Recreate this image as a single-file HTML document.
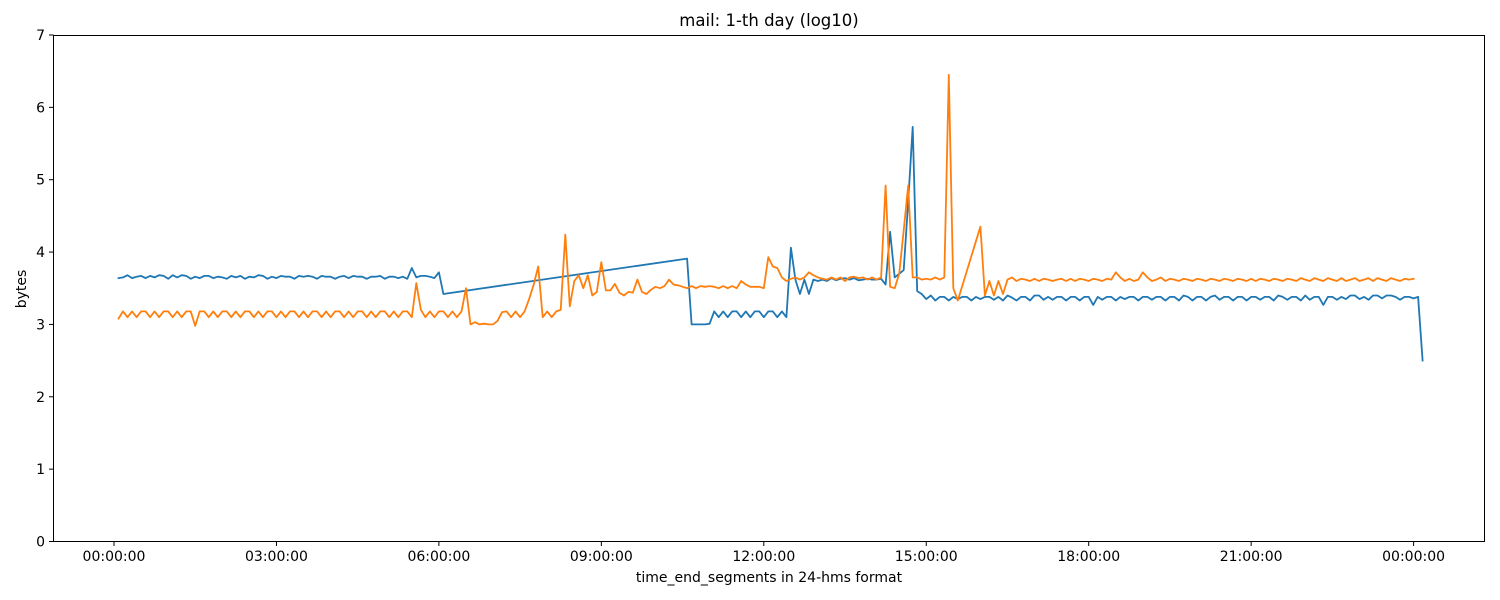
<!DOCTYPE html>
<html><head><meta charset="utf-8"><style>
html,body{margin:0;padding:0;background:#fff;}
svg{display:block;font-family:"DejaVu Sans","Liberation Sans",sans-serif;}
</style></head><body>
<svg id="chart" width="1500" height="600" viewBox="0 0 1500 600">
<rect x="0" y="0" width="1500" height="600" fill="#fff"/>
<text x="769" y="26" font-size="16.5" text-anchor="middle" fill="#000">mail: 1-th day (log10)</text>
<g id="yticks"></g>
<g id="xticks"></g>
<g id="series"></g>
<rect x="53.5" y="35.5" width="1431" height="506" fill="none" stroke="#000" stroke-width="1"/>
<text x="769" y="582" font-size="14" text-anchor="middle">time_end_segments in 24-hms format</text>
<text x="0" y="0" font-size="14" text-anchor="middle" transform="translate(26,289) rotate(-90)">bytes</text>
</svg>
<script>
const yTickValues=[0,1,2,3,4,5,6,7];
const xTickMinutes=[0,180,360,540,720,900,1080,1260,1440];
const xTickLabels=["00:00:00","03:00:00","06:00:00","09:00:00","12:00:00","15:00:00","18:00:00","21:00:00","00:00:00"];
function rng(a,b){const r=[];for(let m=a;m<=b;m+=5)r.push(m);return r;}
const blueMinutes=[].concat(rng(5,365),[635],rng(640,1450));
const blueValues=[
3.64,3.65,3.68,3.64,3.66,3.67,3.64,3.67,3.65,3.68,3.67,
3.63,3.68,3.65,3.68,3.67,3.63,3.66,3.64,3.67,3.67,3.64,3.66,
3.65,3.63,3.67,3.65,3.67,3.63,3.66,3.65,3.68,3.67,3.63,3.66,
3.64,3.67,3.66,3.66,3.63,3.67,3.66,3.67,3.66,3.63,3.67,3.66,
3.66,3.63,3.66,3.67,3.64,3.67,3.66,3.66,3.63,3.66,3.66,3.67,
3.63,3.66,3.66,3.64,3.66,3.63,3.78,3.65,3.67,3.67,3.66,3.64,
3.72,3.42,
3.91,
3.0,3.0,3.0,3.0,
3.01,3.18,3.1,3.18,3.1,3.18,3.18,3.1,3.18,3.1,3.18,3.18,
3.1,3.18,3.18,3.1,3.18,3.1,4.06,3.62,3.42,3.62,3.42,3.62,
3.6,3.62,3.6,3.64,3.61,3.63,3.64,3.62,3.64,3.61,3.62,3.63,
3.62,3.62,3.63,3.55,4.28,3.65,3.7,3.75,4.7,5.73,3.46,3.42,
3.35,3.4,3.33,3.38,3.38,3.33,3.38,3.35,3.38,3.38,3.33,3.38,
3.35,3.38,3.38,3.34,3.38,3.33,3.4,3.37,3.33,3.38,3.38,3.33,
3.4,3.4,3.34,3.38,3.34,3.38,3.38,3.33,3.38,3.38,3.33,3.38,
3.38,3.27,3.38,3.34,3.38,3.38,3.33,3.38,3.35,3.38,3.38,3.33,
3.38,3.38,3.34,3.38,3.38,3.33,3.38,3.38,3.33,3.4,3.38,3.33,
3.38,3.38,3.33,3.38,3.4,3.34,3.38,3.38,3.33,3.38,3.38,3.33,
3.38,3.38,3.34,3.38,3.38,3.33,3.4,3.38,3.34,3.38,3.38,3.33,
3.4,3.34,3.38,3.38,3.27,3.38,3.38,3.34,3.38,3.35,3.4,3.4,
3.35,3.38,3.34,3.4,3.4,3.36,3.4,3.4,3.38,3.34,3.38,3.38,
3.36,3.38,2.5];
const orangeMinutes=[].concat(rng(5,935),rng(960,1440));
const orangeValues=[
3.08,3.18,3.1,3.18,3.1,3.18,3.18,3.1,3.18,3.1,3.18,
3.18,3.1,3.18,3.1,3.18,3.18,2.98,3.18,3.18,3.1,3.18,3.1,
3.18,3.18,3.1,3.18,3.1,3.18,3.18,3.1,3.18,3.1,3.18,3.18,
3.1,3.18,3.1,3.18,3.18,3.1,3.18,3.1,3.18,3.18,3.1,3.18,
3.1,3.18,3.18,3.1,3.18,3.1,3.18,3.18,3.1,3.18,3.1,3.18,
3.18,3.1,3.18,3.1,3.18,3.18,3.1,3.57,3.2,3.1,3.18,3.1,
3.18,3.18,3.1,3.18,3.1,3.18,3.5,3.0,3.03,3.0,3.01,3.0,
3.0,3.05,3.17,3.18,3.1,3.18,3.1,3.18,3.35,3.55,3.8,3.1,
3.18,3.1,3.18,3.2,4.24,3.25,3.6,3.68,3.5,3.68,3.4,3.45,
3.86,3.47,3.47,3.56,3.44,3.4,3.45,3.44,3.62,3.45,3.42,3.48,
3.52,3.5,3.53,3.62,3.55,3.54,3.52,3.5,3.53,3.5,3.53,3.52,
3.53,3.52,3.5,3.53,3.5,3.53,3.5,3.6,3.55,3.52,3.52,3.52,
3.5,3.93,3.8,3.78,3.65,3.6,3.63,3.65,3.62,3.65,3.72,3.68,
3.65,3.63,3.62,3.65,3.62,3.65,3.6,3.65,3.66,3.64,3.65,3.62,
3.65,3.62,3.65,4.92,3.52,3.5,3.7,4.3,4.92,3.65,3.65,3.62,
3.63,3.62,3.65,3.62,3.65,6.45,3.5,3.33,
4.35,3.4,3.6,3.4,3.6,3.42,3.62,3.65,3.6,3.63,3.62,3.6,
3.63,3.6,3.63,3.62,3.6,3.62,3.63,3.6,3.63,3.6,3.63,3.62,
3.6,3.63,3.62,3.6,3.63,3.62,3.72,3.65,3.6,3.63,3.6,3.62,
3.72,3.65,3.6,3.62,3.65,3.6,3.63,3.62,3.6,3.63,3.62,3.6,
3.63,3.62,3.6,3.63,3.62,3.6,3.63,3.62,3.6,3.63,3.62,3.6,
3.63,3.6,3.63,3.62,3.6,3.63,3.62,3.6,3.63,3.62,3.6,3.64,
3.62,3.6,3.64,3.62,3.6,3.64,3.62,3.6,3.64,3.6,3.62,3.64,
3.6,3.62,3.64,3.6,3.64,3.62,3.6,3.64,3.62,3.6,3.63,3.62,
3.63];
const NS="http://www.w3.org/2000/svg";
function xS(m){return 114+m/60*54.15;}
function yS(v){return 541.5-v*72.36;}
const yt=document.getElementById('yticks');
yTickValues.forEach(v=>{
  const l=document.createElementNS(NS,'line');
  
  
  l.setAttribute('x1',49);l.setAttribute('x2',53.5);l.setAttribute('y1',yS(v));l.setAttribute('y2',yS(v));l.setAttribute('stroke','#000');
  yt.appendChild(l);
  const t=document.createElementNS(NS,'text');
  
  
  t.setAttribute('x',45);t.setAttribute('y',yS(v)+5);t.setAttribute('font-size','14');t.setAttribute('text-anchor','end');
  t.textContent=String(v);yt.appendChild(t);
});
const xt=document.getElementById('xticks');
xTickMinutes.forEach((m,i)=>{
  const l=document.createElementNS(NS,'line');
  
  
  l.setAttribute('x1',xS(m));l.setAttribute('x2',xS(m));l.setAttribute('y1',541.5);l.setAttribute('y2',546);l.setAttribute('stroke','#000');
  xt.appendChild(l);
  const t=document.createElementNS(NS,'text');
  
  
  t.setAttribute('x',xS(m));t.setAttribute('y',561);t.setAttribute('font-size','14');t.setAttribute('text-anchor','middle');
  t.textContent=xTickLabels[i];xt.appendChild(t);
});
const sg=document.getElementById('series');
function line(ms,vs,color,name){
  const n=Math.min(ms.length,vs.length);
  let d='';
  for(let i=0;i<n;i++)d+=(i?'L':'M')+xS(ms[i]).toFixed(1)+','+yS(vs[i]).toFixed(1);
  const p=document.createElementNS(NS,'path');
  
  
  p.setAttribute('d',d);p.setAttribute('fill','none');p.setAttribute('stroke',color);
  p.setAttribute('stroke-width','1.8');p.setAttribute('stroke-linejoin','round');p.setAttribute('stroke-linecap','square');
  sg.appendChild(p);
}
line(blueMinutes,blueValues,'#1f77b4','blue-series-line');
line(orangeMinutes,orangeValues,'#ff7f0e','orange-series-line');
</script>
</body></html>
